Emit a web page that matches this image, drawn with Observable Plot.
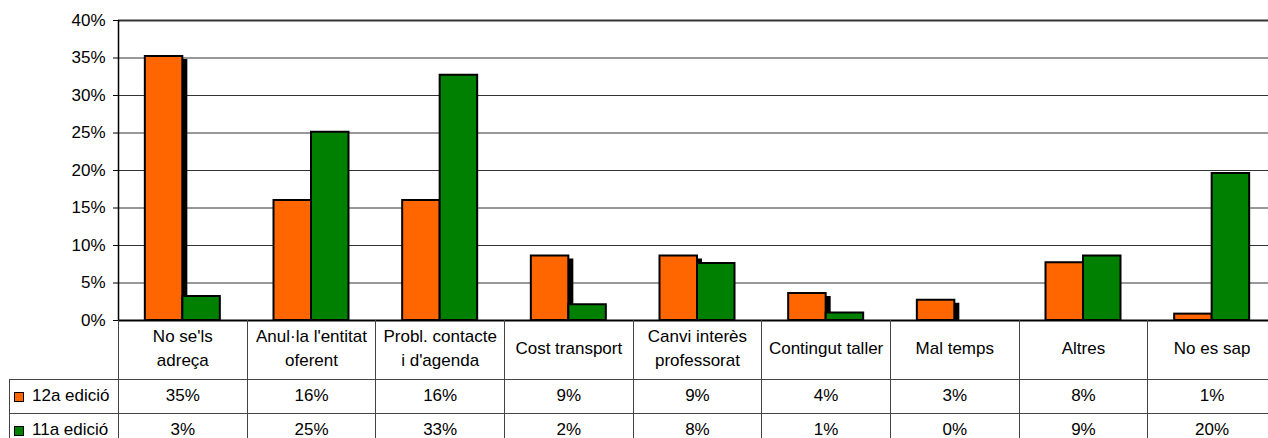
<!DOCTYPE html>
<html>
<head>
<meta charset="utf-8">
<script src="https://cdn.jsdelivr.net/npm/d3@7"></script>
<script src="https://cdn.jsdelivr.net/npm/@observablehq/plot@0.6"></script>
<style>
  html, body { margin: 0; padding: 0; background: #fff; overflow: hidden; }
  #wrap { position: relative; width: 1268px; height: 438px; overflow: hidden; background: #fff;
          font-family: "Liberation Sans", Arial, sans-serif; }
  #wrap svg { display: block; }
  table.dt { position: absolute; border-collapse: collapse; table-layout: fixed; background: transparent;
             font-family: "Liberation Sans", Arial, sans-serif; font-size: 17px; color: #000; }
  table.dt td { border: 1px solid #444; padding: 0; text-align: center; vertical-align: middle; overflow: hidden; white-space: nowrap; }
  table.dt tr.hdr td { border-top: none; white-space: pre-line; line-height: 24px; }
  table.dt tr.hdr td.corner { border-left: none; }
  table.dt td.lab { text-align: left; padding-left: 4px; }
  .key { display: inline-block; width: 8px; height: 8px; border: 1.5px solid #000; margin-right: 8px; vertical-align: -1px; }
</style>
</head>
<body>
<div id="wrap"></div>
<script>
const categories = ["No se'ls adreça", "Anul·la l'entitat oferent", "Probl. contacte i d'agenda", "Cost transport",
  "Canvi interès professorat", "Contingut taller", "Mal temps", "Altres", "No es sap"];
const headerLabels = ["No se'ls\nadreça", "Anul·la l'entitat\noferent", "Probl. contacte\ni d'agenda", "Cost transport",
  "Canvi interès\nprofessorat", "Contingut taller", "Mal temps", "Altres", "No es sap"];
const seriesNames = ["12a edició", "11a edició"];
const seriesColors = ["#ff6600", "#008000"];
const ed12 = [0.352, 0.160, 0.160, 0.086, 0.086, 0.036, 0.027, 0.077, 0.0085];
const ed11 = [0.032, 0.251, 0.327, 0.021, 0.076, 0.010, 0.000, 0.086, 0.196];
const yTicks = [0, 0.05, 0.10, 0.15, 0.20, 0.25, 0.30, 0.35, 0.40];

const fmt = d3.format(".0%");
const d12 = categories.map((c, i) => ({cat: c, v: ed12[i]}));
const d11 = categories.map((c, i) => ({cat: c, v: ed11[i]}));

const W = 1268, ML = 118, MR = -8;
const bw = (W - MR - ML) / categories.length;   // band width
const barW = 37.5;
const outer = bw / 2 - barW;

const chart = Plot.plot({
  width: W,
  height: 322,
  marginLeft: ML,
  marginRight: MR,
  marginTop: 20,
  marginBottom: 2,
  style: {fontFamily: "'Liberation Sans', Arial, sans-serif", fontSize: "17px", color: "#000", background: "transparent", overflow: "visible"},
  x: {domain: categories, padding: 0, round: false, axis: null},
  y: {domain: [0, 0.40], axis: null},
  marks: [
    Plot.ruleY(yTicks.slice(1, -1), {stroke: "#333", strokeWidth: 1}),
    Plot.ruleY([0.40], {stroke: "#333", strokeWidth: 2}),
    Plot.axisY({ticks: yTicks, tickFormat: fmt, tickSize: 5, tickPadding: 8, fontSize: 17, stroke: "#000", label: null}),
    // shadow behind the orange series
    Plot.barY(d12, {x: "cat", y: "v", fill: "#000", insetLeft: outer, insetRight: bw / 2, insetBottom: 3, dx: 5, dy: 3}),
    Plot.barY(d12, {x: "cat", y: "v", fill: seriesColors[0], stroke: "#000", strokeWidth: 2, insetLeft: outer, insetRight: bw / 2}),
    Plot.barY(d11, {x: "cat", y: "v", fill: seriesColors[1], stroke: "#000", strokeWidth: 2, insetLeft: bw / 2, insetRight: outer}),
    Plot.ruleX([categories[0]], {stroke: "#000", strokeWidth: 1.5, dx: -bw / 2}),
    Plot.ruleY([0], {stroke: "#000", strokeWidth: 2})
  ]
});

const wrap = document.getElementById("wrap");
wrap.appendChild(chart);

// data table aligned with the chart's x scale
const xs = chart.scale("x");
const ys = chart.scale("y");
const step = (xs.range[1] - xs.range[0]) / xs.domain.length;
const left0 = 9;
const labW = xs.range[0] - left0;

const table = document.createElement("table");
table.className = "dt";
table.style.left = left0 + "px";
table.style.top = ys.apply(0) + "px";
table.style.width = (labW + step * categories.length) + "px";
const cg = document.createElement("colgroup");
const c0 = document.createElement("col"); c0.style.width = labW + "px"; cg.appendChild(c0);
categories.forEach(() => { const c = document.createElement("col"); c.style.width = step + "px"; cg.appendChild(c); });
table.appendChild(cg);

const hdr = document.createElement("tr");
hdr.className = "hdr";
hdr.style.height = "59px";
const corner = document.createElement("td"); corner.className = "corner"; hdr.appendChild(corner);
headerLabels.forEach(h => { const td = document.createElement("td"); td.textContent = h; hdr.appendChild(td); });
table.appendChild(hdr);

[ed12, ed11].forEach((vals, si) => {
  const tr = document.createElement("tr");
  tr.style.height = "34px";
  const lab = document.createElement("td");
  lab.className = "lab";
  const key = document.createElement("span");
  key.className = "key";
  key.style.background = seriesColors[si];
  lab.appendChild(key);
  lab.appendChild(document.createTextNode(seriesNames[si]));
  tr.appendChild(lab);
  vals.forEach(v => { const td = document.createElement("td"); td.textContent = fmt(v); tr.appendChild(td); });
  table.appendChild(tr);
});
wrap.appendChild(table);
</script>
</body>
</html>
